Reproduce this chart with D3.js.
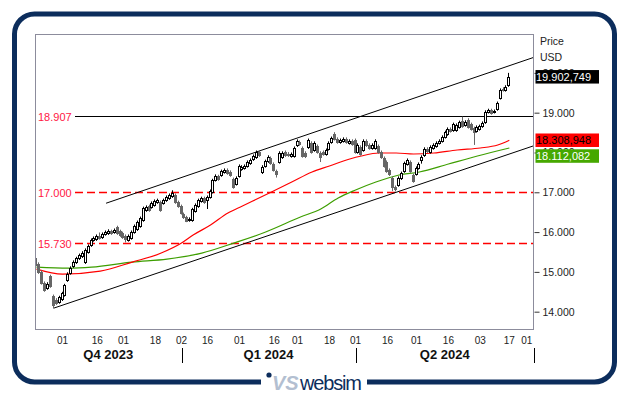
<!DOCTYPE html>
<html>
<head>
<meta charset="utf-8">
<script src="https://cdn.jsdelivr.net/npm/d3@7"></script>
<style>
body { margin: 0; background: #fff; }
svg { display: block; font-family: "Liberation Sans", Arial, sans-serif; }
</style>
</head>
<body>
<svg id="chart" width="629" height="396"></svg>
<script>
let w = 629
let h = 396
let plot = {left: 35, right: 534, top: 34, bottom: 329}

// daily candles, index 0 = first trading day shown
let openP = [
15347,15196,14995,14719,14593,14895,14392,14291,14241,14316,
14417,14794,14970,15146,15247,15347,15397,15247,15498,15674,
15800,15825,15900,15875,15951,15976,16026,16001,16127,16026,
15976,15900,15800,15850,16001,16077,16152,16303,16554,16655,
16630,16680,16755,16755,16730,16806,16856,16906,16931,16755,
16655,16454,16378,16303,16303,16529,16655,16781,16856,16806,
16881,17007,17308,17409,17434,17510,17560,17510,17334,17208,
17409,17585,17610,17660,17736,17836,17887,18012,17510,17660,
17786,17862,17711,17535,17761,17887,18012,17962,17912,17912,
18188,18264,18113,17987,18138,18239,18063,18163,17987,18012,
17962,18088,18264,18465,18339,18264,18289,18339,18239,18289,
18314,18012,18138,18063,18289,18188,18113,18113,18163,18012,
17862,17761,17560,17359,17132,17183,17359,17535,17711,17761,
17434,17459,17610,17811,17937,18088,18012,18113,18163,18239,
18289,18389,18465,18590,18565,18565,18641,18792,18691,18817,
18716,18616,18540,18590,18666,18766,19018,19068,19018,19093,
19369,19596,19570,19696]
let highP = [
15390,15240,15040,14760,14740,14930,14430,14340,14400,14500,
14700,14990,15140,15290,15380,15460,15520,15590,15690,15840,
15890,15940,15990,15990,16040,16070,16060,16090,16160,16060,
16010,15940,15940,16040,16190,16290,16390,16640,16670,16690,
16770,16820,16840,16790,16840,16920,16970,17050,16970,16790,
16690,16490,16410,16370,16610,16720,16840,16890,16890,16920,
17070,17340,17450,17440,17570,17600,17600,17550,17370,17400,
17700,17680,17700,17800,17850,17950,18050,18050,17680,17820,
17930,17900,17750,17570,18030,18030,18050,18010,18000,18150,
18330,18300,18150,18030,18350,18280,18280,18200,18030,18050,
18100,18280,18400,18510,18380,18350,18380,18380,18330,18330,
18350,18230,18180,18330,18330,18230,18230,18330,18200,18050,
17900,17800,17600,17400,17170,17400,17520,17770,17850,17800,
17470,17650,17750,17930,18130,18130,18180,18230,18280,18330,
18430,18550,18630,18630,18750,18730,18800,18900,18810,18860,
18750,18650,18680,18700,18780,19060,19100,19100,19080,19280,
19610,19640,19690,20000]
let lowP = [
15130,14950,14680,14500,14550,14600,14080,14170,14200,14270,
14380,14750,14930,15100,15200,15300,15350,15200,15460,15630,
15760,15780,15810,15830,15910,15930,15930,15960,15930,15880,
15830,15740,15760,15810,15960,16030,16110,16260,16510,16510,
16590,16640,16710,16510,16690,16760,16810,16860,16710,16610,
16440,16330,16250,16260,16260,16490,16610,16740,16710,16580,
16840,16970,17270,17290,17390,17470,17440,17390,17090,17170,
17370,17540,17570,17620,17690,17790,17840,17890,17460,17620,
17740,17690,17520,17370,17720,17840,17890,17890,17870,17870,
18140,18170,17870,17860,18090,17970,18020,17970,17760,17920,
17920,18050,18220,18300,18220,18220,18250,18220,18200,18170,
17970,17970,17920,18020,18140,18070,18070,18070,17970,17840,
17620,17490,17410,17030,17020,17140,17310,17490,17670,17490,
17240,17420,17570,17720,17890,17990,17970,18070,18120,18200,
18250,18350,18420,18500,18520,18520,18600,18620,18650,18600,
18550,18190,18500,18550,18620,18720,18980,18950,18980,19050,
19330,19530,19530,19650]
let closeP = [
15171,14995,14719,14543,14694,14643,14166,14216,14367,14467,
14668,14945,15096,15247,15347,15423,15473,15548,15649,15800,
15850,15900,15850,15951,16001,16026,15976,16051,15976,15926,
15875,15825,15900,16001,16152,16253,16353,16605,16630,16554,
16730,16781,16806,16554,16806,16881,16931,16982,16755,16655,
16479,16378,16278,16328,16579,16680,16806,16856,16755,16881,
17032,17308,17409,17334,17535,17560,17484,17434,17132,17359,
17660,17635,17660,17761,17811,17912,18012,17937,17635,17786,
17887,17736,17560,17459,17987,17987,17937,17937,17962,18113,
18289,18213,17912,17912,18314,18012,18239,18012,17887,17962,
18063,18239,18364,18339,18264,18314,18339,18264,18289,18213,
18012,18188,17962,18289,18188,18113,18188,18289,18012,17887,
17660,17535,17459,17132,17082,17359,17484,17736,17811,17535,
17283,17610,17711,17887,18088,18037,18138,18188,18239,18289,
18389,18515,18590,18540,18716,18691,18766,18666,18766,18641,
18590,18515,18641,18666,18741,19018,19068,18993,19043,19244,
19570,19570,19646,19902.749]

// moving averages, sampled by candle index
let redIdx = [0, 9, 22, 33, 43, 50, 54, 60, 66, 71, 81, 88, 95, 101, 108, 112, 118, 124, 130, 137, 145, 153, 159, 163]
let redMA = [15070, 14945, 15020, 15247, 15473, 15724, 15926, 16177, 16479, 16655, 17007, 17258, 17510, 17660, 17836, 17912, 17987, 17987, 17962, 17987, 18063, 18113, 18188, 18308.948]
let greenIdx = [0, 11, 19, 33, 45, 57, 68, 79, 91, 98, 104, 110, 117, 125, 132, 142, 152, 163]
let greenMA = [15121, 15096, 15121, 15247, 15322, 15473, 15724, 16001, 16378, 16579, 16856, 17057, 17258, 17434, 17510, 17711, 17912, 18112.082]

// trend channel [index, price]
let channelLow = [[6, 14090], [171.5, 18171]]
let channelHigh = [[24, 16725], [171.5, 20392]]

let levels = [18907, 17000, 15730]
let yTicks = [14000, 15000, 16000, 17000, 18000, 19000, 20000]

let monthIdx = [9, 21, 30, 41, 50, 59, 70, 82, 90, 101, 110, 121, 131, 142, 153, 163, 169]
let monthLabels = ['01', '16', '01', '18', '02', '16', '01', '16', '01', '18', '01', '16', '01', '16', '03', '17', '01']
let quarterNames = ['Q4 2023', 'Q1 2024', 'Q2 2024']
let quarterEnds = [50, 110, 171.5]

let loc = d3.formatLocale({decimal: ',', thousands: '.', grouping: [3], currency: ['', '']})
let fmtInt = loc.format(',d')
let fmtVal = loc.format(',.3f')

let candles = closeP.map((c, i) => ({i: i, o: openP[i], h: highP[i], l: lowP[i], c: c}))

let x = d3.scaleLinear().domain([-0.5, 171.5]).range([plot.left, plot.right])
let y = d3.scaleLinear().domain([13565, 20977]).range([plot.bottom, plot.top])

let svg = d3.select('#chart')
svg.append('rect').attr('width', w).attr('height', h).attr('fill', '#fff')

svg.append('defs').append('clipPath').attr('id', 'clip')
  .append('rect')
  .attr('x', plot.left).attr('y', plot.top)
  .attr('width', plot.right - plot.left).attr('height', plot.bottom - plot.top)

let g = svg.append('g').attr('clip-path', 'url(#clip)')

// horizontal levels
levels.forEach((v, k) => {
  let yy = Math.round(y(v)) + 0.5
  g.append('line')
    .attr('x1', 75).attr('x2', plot.right)
    .attr('y1', yy).attr('y2', yy)
    .attr('stroke', k === 0 ? '#000' : '#ff0000')
    .attr('stroke-width', k === 0 ? 1.2 : 1.4)
    .attr('stroke-dasharray', k === 0 ? null : '8,4')
  svg.append('text')
    .attr('x', 38).attr('y', yy + 4)
    .attr('font-size', '11px')
    .attr('fill', '#ff1744')
    .text(fmtInt(v))
})

// channel
let line2 = d3.line().x(d => x(d[0])).y(d => y(d[1]))
;[channelLow, channelHigh].forEach(ch => {
  g.append('path').attr('d', line2(ch))
    .attr('fill', 'none').attr('stroke', '#000').attr('stroke-width', 1)
})

// moving averages
let maLine = d3.line().x(d => x(d[0])).y(d => y(d[1])).curve(d3.curveMonotoneX)
g.append('path')
  .attr('d', maLine(greenIdx.map((d, k) => [d, greenMA[k]])))
  .attr('fill', 'none').attr('stroke', '#3d9e00').attr('stroke-width', 1.2)
g.append('path')
  .attr('d', maLine(redIdx.map((d, k) => [d, redMA[k]])))
  .attr('fill', 'none').attr('stroke', '#ff0000').attr('stroke-width', 1.2)

// candles
let cg = g.selectAll('g.candle')
  .data(candles)
  .join('g')
  .attr('class', 'candle')

cg.append('line')
  .attr('x1', d => Math.round(x(d.i)) - 0.5)
  .attr('x2', d => Math.round(x(d.i)) - 0.5)
  .attr('y1', d => y(d.h))
  .attr('y2', d => y(d.l))
  .attr('stroke', d => d.c >= d.o ? '#000' : '#666')

cg.append('rect')
  .attr('x', d => Math.round(x(d.i)) - 1.5)
  .attr('width', 2)
  .attr('y', d => Math.round(y(Math.max(d.o, d.c))) + 0.5)
  .attr('height', d => Math.max(1, Math.round(y(Math.min(d.o, d.c))) - Math.round(y(Math.max(d.o, d.c)))))
  .attr('fill', d => d.c >= d.o ? '#fff' : '#666')
  .attr('stroke', d => d.c >= d.o ? '#000' : '#666')
  .attr('stroke-width', 1)

// plot frame
svg.append('rect')
  .attr('x', plot.left + 0.5).attr('y', plot.top + 0.5)
  .attr('width', plot.right - plot.left - 1).attr('height', plot.bottom - plot.top)
  .attr('fill', 'none').attr('stroke', '#8c8c9c')

// y axis on the right
let yAxis = d3.axisRight(y).tickValues(yTicks).tickFormat(fmtInt).tickSize(5).tickPadding(3)
let ya = svg.append('g')
  .attr('transform', 'translate(' + (plot.right + 0.5) + ',0)')
  .call(yAxis)
ya.select('.domain').remove()
ya.selectAll('text').attr('font-size', '10.5px').attr('fill', '#222').attr('font-family', 'Liberation Sans, Arial, sans-serif')
ya.selectAll('line').attr('stroke', '#333')

svg.append('text').attr('x', 540).attr('y', 45).attr('font-size', '10.5px').attr('fill', '#222').text('Price')
svg.append('text').attr('x', 540).attr('y', 61).attr('font-size', '10.5px').attr('fill', '#222').text('USD')

// value boxes
let boxes = [
  {v: closeP[closeP.length - 1], bg: '#000', fg: '#fff'},
  {v: redMA[redMA.length - 1], bg: '#ff0000', fg: '#000'},
  {v: greenMA[greenMA.length - 1], bg: '#46a800', fg: '#fff'}
]
let lastBottom = 0
boxes.forEach(b => {
  let top = Math.max(y(b.v) - 6.7, lastBottom + 2.3)
  lastBottom = top + 13.5
  svg.append('rect')
    .attr('x', 535.5).attr('y', top)
    .attr('width', 63.5).attr('height', 13.5)
    .attr('fill', b.bg)
  svg.append('text')
    .attr('x', 536).attr('y', top + 10.8)
    .attr('font-size', '11px')
    .attr('fill', b.fg)
    .text(fmtVal(b.v))
})

// month labels
svg.selectAll('text.month')
  .data(monthIdx)
  .join('text')
  .attr('class', 'month')
  .attr('x', d => x(d))
  .attr('y', 344)
  .attr('text-anchor', 'middle')
  .attr('font-size', '10px')
  .attr('fill', '#222')
  .text((d, k) => monthLabels[k])

// quarters
quarterNames.forEach((q, k) => {
  let start = k === 0 ? -0.5 : quarterEnds[k - 1]
  svg.append('text')
    .attr('x', (x(start) + x(quarterEnds[k])) / 2)
    .attr('y', 359)
    .attr('text-anchor', 'middle')
    .attr('font-size', '13px')
    .attr('font-weight', 'bold')
    .attr('fill', '#111')
    .text(q)
  let sx = Math.round(x(quarterEnds[k])) + 0.5
  svg.append('line')
    .attr('x1', sx).attr('x2', sx)
    .attr('y1', 348).attr('y2', 363)
    .attr('stroke', '#000')
})

// outer frame and logo
svg.append('rect')
  .attr('x', 14.5).attr('y', 14).attr('width', 600).attr('height', 368)
  .attr('rx', 20).attr('ry', 20)
  .attr('fill', 'none').attr('stroke', '#0c2d5c').attr('stroke-width', 5)
svg.append('rect').attr('x', 261).attr('y', 376).attr('width', 106).attr('height', 12).attr('fill', '#fff')
svg.append('circle').attr('cx', 269).attr('cy', 375).attr('r', 2.6).attr('fill', '#0c2d5c')
svg.append('text')
  .attr('x', 272).attr('y', 390)
  .attr('font-size', '20px').attr('font-weight', 'bold').attr('font-style', 'italic')
  .attr('fill', '#b3bfd1')
  .text('VS')
svg.append('text')
  .attr('x', 300).attr('y', 390)
  .attr('font-size', '20px')
  .attr('textLength', 62)
  .attr('fill', '#0c2d5c')
  .text('websim')
</script>
</body>
</html>
